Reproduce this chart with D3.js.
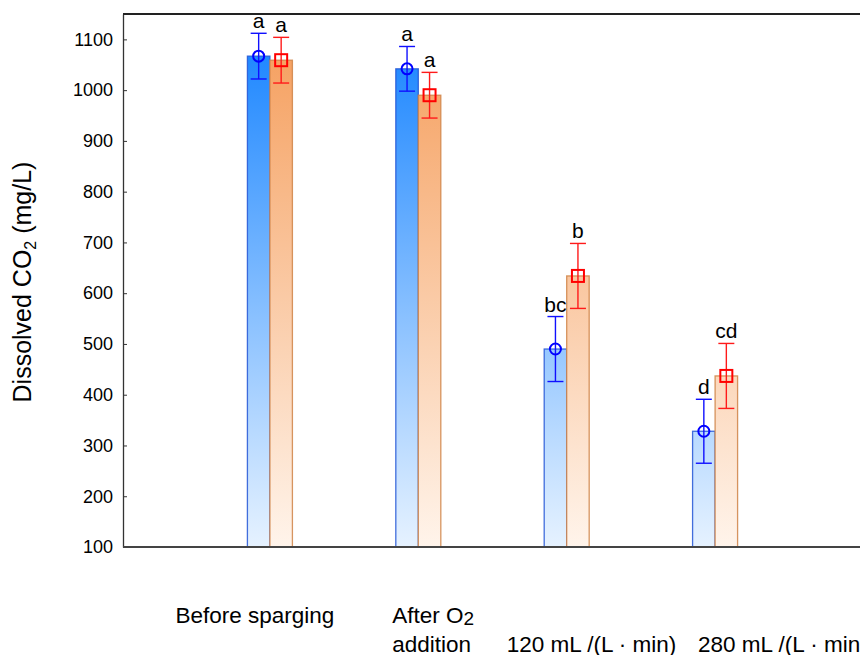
<!DOCTYPE html>
<html>
<head>
<meta charset="utf-8">
<script src="https://cdn.jsdelivr.net/npm/d3@7/dist/d3.min.js"></script>
<style>
  html, body { margin: 0; padding: 0; background: #fff; }
  svg { display: block; font-family: "Liberation Sans", Arial, sans-serif; }
</style>
</head>
<body>
<svg id="chart" width="860" height="655"></svg>
<script>
// Treatment stages along the x axis
const categories = ["Before sparging", "After O2 addition", "120 mL /(L · min)", "280 mL /(L · min)"];
// Two series per stage (blue circles / red squares)
const seriesNames = ["s1", "s2"];
const meanS1 = [1067, 1042, 490, 328];
const errS1  = [45, 44, 64, 63];
const meanS2 = [1059, 990, 634, 437];
const errS2  = [45, 45, 64, 64];
// Significance letters above each bar
const lettersS1 = ["a", "a", "bc", "d"];
const lettersS2 = ["a", "a", "b", "cd"];
// Y axis ticks
const yTicks = [100, 200, 300, 400, 500, 600, 700, 800, 900, 1000, 1100];

(function () {
const svg = d3.select("#chart");
const W = 860;
const mLeft = 123, mTop = 14, mBottom = 547, mRight = 862;

const x = d3.scaleBand().domain(categories).range([mLeft, mRight])
  .paddingInner(0).paddingOuter(0.49);
const xs = d3.scaleBand().domain(seriesNames).range([-22.5, 22.5]).padding(0);
const y = d3.scaleLinear().domain([100, 1150]).range([mBottom, mTop]);

const defs = svg.append("defs");
function grad(id, c0, c1) {
  const g = defs.append("linearGradient").attr("id", id)
    .attr("gradientUnits", "userSpaceOnUse")
    .attr("x1", 0).attr("x2", 0).attr("y1", y(1100)).attr("y2", y(100));
  g.append("stop").attr("offset", 0).attr("stop-color", c0);
  g.append("stop").attr("offset", 1).attr("stop-color", c1);
}
grad("gBlue", "#1a85ff", "#e6f2ff");
grad("gOrange", "#f59f5e", "#fff4eb");

const rows = [];
categories.forEach((c, i) => {
  rows.push({ cat: c, s: "s1", v: meanS1[i], e: errS1[i], t: lettersS1[i] });
  rows.push({ cat: c, s: "s2", v: meanS2[i], e: errS2[i], t: lettersS2[i] });
});
const center = d => x(d.cat) + x.bandwidth() / 2 + xs(d.s) + xs.bandwidth() / 2;

// Bars
svg.append("g").selectAll("rect").data(rows).join("rect")
  .attr("x", d => x(d.cat) + x.bandwidth() / 2 + xs(d.s))
  .attr("y", d => y(d.v))
  .attr("width", xs.bandwidth())
  .attr("height", d => y(100) - y(d.v))
  .attr("fill", d => d.s === "s1" ? "url(#gBlue)" : "url(#gOrange)")
  .attr("stroke", d => d.s === "s1" ? "#2356d6" : "#cf8245")
  .attr("stroke-opacity", 0.85)
  .attr("stroke-width", 1.3);

// Error bars
const eg = svg.append("g");
rows.forEach(d => {
  const col = d.s === "s1" ? "#1010ff" : "#ff1a1a";
  const c = center(d);
  const g = eg.append("g").attr("stroke", col).attr("stroke-width", 1.4).attr("fill", "none");
  g.append("line").attr("x1", c).attr("x2", c).attr("y1", y(d.v + d.e)).attr("y2", y(d.v - d.e));
  g.append("line").attr("x1", c - 8).attr("x2", c + 8).attr("y1", y(d.v + d.e)).attr("y2", y(d.v + d.e));
  g.append("line").attr("x1", c - 8).attr("x2", c + 8).attr("y1", y(d.v - d.e)).attr("y2", y(d.v - d.e));
});

// Markers
svg.append("g").selectAll("circle").data(rows.filter(d => d.s === "s1")).join("circle")
  .attr("cx", center).attr("cy", d => y(d.v)).attr("r", 5.5)
  .attr("fill", "none").attr("stroke", "#0000ff").attr("stroke-width", 2);
svg.append("g").selectAll("rect").data(rows.filter(d => d.s === "s2")).join("rect")
  .attr("x", d => center(d) - 6).attr("y", d => y(d.v) - 6)
  .attr("width", 12).attr("height", 12)
  .attr("fill", "none").attr("stroke", "#ff0000").attr("stroke-width", 2);

// Letters
svg.append("g").selectAll("text").data(rows).join("text")
  .attr("x", center).attr("y", d => y(d.v + d.e) - 5)
  .attr("text-anchor", "middle").attr("font-size", 21).attr("fill", "#000")
  .text(d => d.t);

// Y axis
const yAxis = d3.axisLeft(y).tickValues(yTicks).tickFormat(d3.format("d"))
  .tickSizeInner(-4).tickSizeOuter(0).tickPadding(10);
const ya = svg.append("g").attr("transform", `translate(${mLeft},0)`).call(yAxis);
ya.select(".domain").attr("stroke", "#333").attr("stroke-width", 1.3);
ya.selectAll(".tick line").attr("stroke", "#333");
ya.selectAll(".tick text").attr("font-size", 18).attr("fill", "#000")
  .attr("font-family", "'Liberation Sans', Arial, sans-serif");

// Frame lines (top and bottom)
svg.append("line").attr("x1", mLeft).attr("x2", W).attr("y1", y(1150)).attr("y2", y(1150))
  .attr("stroke", "#222").attr("stroke-width", 2);
svg.append("line").attr("x1", mLeft).attr("x2", W).attr("y1", y(100)).attr("y2", y(100))
  .attr("stroke", "#444").attr("stroke-width", 2);

// Y axis title
const yt = svg.append("text")
  .attr("transform", `translate(31,282) rotate(-90)`)
  .attr("text-anchor", "middle").attr("font-size", 25).attr("fill", "#000");
yt.append("tspan").text("Dissolved CO");
yt.append("tspan").attr("font-size", 16).attr("dy", 5).text("2");
yt.append("tspan").attr("dy", -5).text(" (mg/L)");

// Category labels
const labelLayout = [
  { dx: -15, anchor: "middle", lines: [[["Before sparging"]]], y0: 623 },
  { dx: -26, anchor: "start", lines: [[["After O"], ["2", true]], [["addition"]]], y0: 623 },
  { dx: -60, anchor: "start", lines: [[[categories[2]]]], y0: 652 },
  { dx: -17, anchor: "start", lines: [[[categories[3]]]], y0: 652 }
];
const lg = svg.append("g").attr("font-size", 22.5).attr("fill", "#000");
categories.forEach((c, i) => {
  const L = labelLayout[i];
  const cxp = x(c) + x.bandwidth() / 2 + L.dx;
  L.lines.forEach((parts, li) => {
    const t = lg.append("text").attr("x", cxp).attr("y", L.y0 + li * 29).attr("text-anchor", L.anchor);
    parts.forEach(p => {
      const s = t.append("tspan").text(p[0]);
      if (p[1]) s.attr("font-size", 19).attr("dy", 2);
    });
  });
});
})();
</script>
</body>
</html>
